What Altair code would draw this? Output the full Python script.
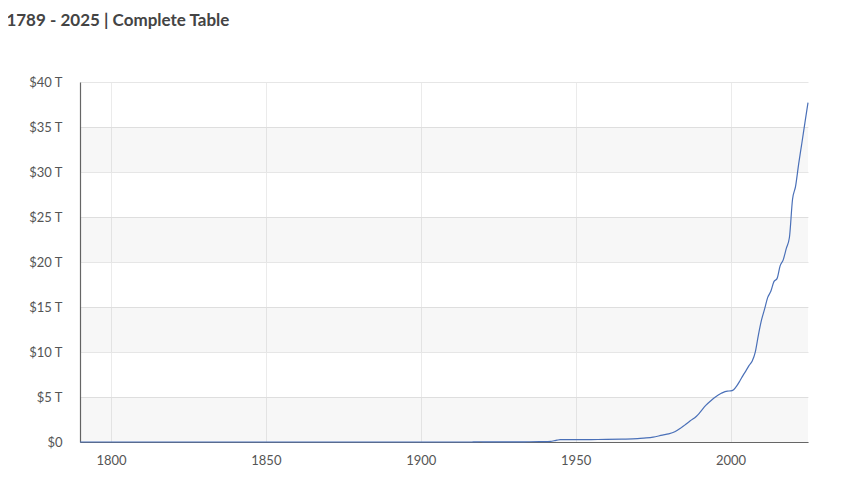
import altair as alt
import pandas as pd

years = [1790, 1800, 1810, 1816, 1820, 1830, 1835, 1840, 1850, 1860, 1863, 1866,
         1870, 1880, 1890, 1900, 1910, 1916, 1917, 1918, 1919, 1920, 1925, 1930, 1935,
         1940, 1941, 1942, 1943, 1944, 1945, 1946, 1950, 1955, 1960, 1965, 1970, 1972,
         1975, 1978, 1980, 1982, 1984, 1985, 1987, 1989, 1990, 1992, 1994, 1995, 1997,
         1999, 2000, 2001, 2002, 2003, 2004, 2005, 2006, 2007, 2008, 2009, 2010, 2011,
         2012, 2013, 2014, 2015, 2016, 2017, 2018, 2019, 2020, 2021, 2022, 2023, 2024, 2025]
debt_trillions = [0.000076, 0.000083, 0.000053, 0.000127, 0.000091, 0.000049,
                  0.0000003, 0.000004, 0.000063, 0.000065, 0.0011, 0.0027,
                  0.0024, 0.0021, 0.0012, 0.0012, 0.0011, 0.0012, 0.003, 0.012, 0.0255,
                  0.0243, 0.0206, 0.0162, 0.0287,
                  0.043, 0.049, 0.072, 0.136, 0.201, 0.259, 0.269, 0.257, 0.274, 0.286,
                  0.317, 0.371, 0.427,
                  0.533, 0.772, 0.908, 1.14, 1.57, 1.82, 2.35, 2.86, 3.23, 4.06, 4.69,
                  4.97, 5.41,
                  5.66, 5.67, 5.81, 6.23, 6.78, 7.38, 7.93, 8.51, 9.01, 10.02, 11.91, 13.56,
                  14.79, 16.07, 16.74, 17.82, 18.15, 19.57, 20.24, 21.52, 22.72, 26.95,
                  28.43, 30.93, 33.17, 35.46, 37.7]

band_low = [0, 10, 20, 30]
band_high = [5, 15, 25, 35]

W, H = 728, 360
FONT = "Lato"

df = pd.DataFrame({"year": years, "debt": debt_trillions})
bands = pd.DataFrame({"lo": band_low, "hi": band_high})

yscale = alt.Scale(domain=[0, 40], nice=False)
xscale = alt.Scale(domain=[1790, 2025], nice=False, zero=False)

yaxis = alt.Axis(title=None, values=[0, 5, 10, 15, 20, 25, 30, 35, 40],
                 labelExpr="datum.value == 0 ? '$0' : '$' + datum.value + ' T'",
                 grid=True, gridColor="#e6e6e6", ticks=False, zindex=0,
                 domainColor="#666666", domainWidth=1.2,
                 labelColor="#555555", labelFontSize=13, labelFont=FONT,
                 labelPadding=18)
xaxis = alt.Axis(title=None, values=[1800, 1850, 1900, 1950, 2000], format="d",
                 grid=True, gridColor="#ebebeb", ticks=False, zindex=0,
                 domainColor="#666666", domainWidth=1.2,
                 labelColor="#555555", labelFontSize=13, labelFont=FONT,
                 labelPadding=12)

band_layer = alt.Chart(bands).mark_rect(color="#000000", opacity=0.032).encode(
    x=alt.value(0), x2=alt.value(W),
    y=alt.Y("lo:Q", scale=yscale, axis=yaxis),
    y2="hi:Q",
)

line = alt.Chart(df).mark_line(color="#4a70b8", strokeWidth=1.2, interpolate="monotone").encode(
    x=alt.X("year:Q", scale=xscale, axis=xaxis),
    y=alt.Y("debt:Q", scale=yscale, axis=yaxis),
)

chart = (band_layer + line).properties(
    width=W, height=H,
    title=alt.TitleParams("1789 - 2025 | Complete Table", anchor="start", font=FONT,
                          fontSize=17, fontWeight="bold", color="#444444",
                          offset=46, dx=-22),
    padding={"left": 72, "top": 74, "right": 26, "bottom": 35},
    autosize=alt.AutoSizeParams(type="none"),
).configure_view(stroke=None)

chart.save("out.html", embed_options={"renderer": "svg", "actions": False})
